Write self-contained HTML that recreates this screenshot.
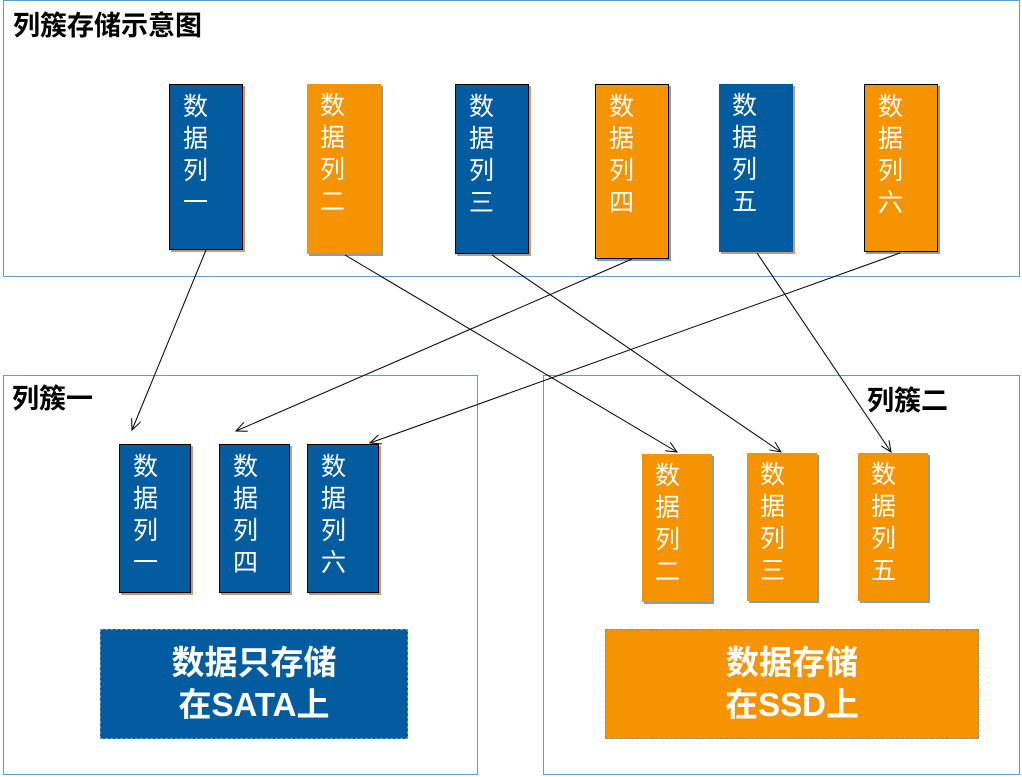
<!DOCTYPE html>
<html><head><meta charset="utf-8"><style>
*{margin:0;padding:0;box-sizing:border-box}
body{width:1022px;height:777px;background:#fff;position:relative;overflow:hidden;font-family:"Liberation Sans","Noto Sans CJK SC",sans-serif}
.fr{position:absolute;border:1px solid #5B9BD5}
.t{position:absolute;font-weight:bold;color:#000;font-size:27px;line-height:30px;white-space:nowrap}
.b{position:absolute;color:#fff;font-size:25px;line-height:32px;padding-left:13px;padding-top:6px}
.bl{background:#035C9F;border:1.5px solid #000;box-shadow:2px 2px 0 #c49a7a}
.or{background:#F59300;box-shadow:2px 2px 0 #7fa0b8}
.lab{position:absolute;color:#fff;font-weight:bold;font-size:33px;line-height:42px;text-align:center;border:1px dashed #5B9BD5;display:flex;align-items:center;justify-content:center}
</style></head><body>
<div class="fr" style="left:3px;top:0;width:1017px;height:277px"></div>
<div class="fr" style="left:3px;top:375px;width:475px;height:400px"></div>
<div class="fr" style="left:543px;top:375px;width:477px;height:400px"></div>
<div class="t" style="left:13px;top:11px">列簇存储示意图</div>
<div class="t" style="left:12px;top:384px">列簇一</div>
<div class="t" style="left:867px;top:386px">列簇二</div>

<div class="b bl" style="left:169px;top:84px;width:74px;height:166px">数<br>据<br>列<br>一</div>
<div class="b or" style="left:307px;top:84px;width:74px;height:170px">数<br>据<br>列<br>二</div>
<div class="b bl" style="left:455px;top:84px;width:74px;height:170px">数<br>据<br>列<br>三</div>
<div class="b or" style="left:595px;top:84px;width:74px;height:175px;border:1px solid #000">数<br>据<br>列<br>四</div>
<div class="b bl" style="left:719px;top:84px;width:74px;height:168px;border:none">数<br>据<br>列<br>五</div>
<div class="b or" style="left:864px;top:84px;width:74px;height:168px;border:1px solid #000">数<br>据<br>列<br>六</div>

<div class="b bl" style="left:119px;top:444px;width:72px;height:149px">数<br>据<br>列<br>一</div>
<div class="b bl" style="left:219px;top:444px;width:71px;height:149px">数<br>据<br>列<br>四</div>
<div class="b bl" style="left:307px;top:444px;width:72px;height:149px">数<br>据<br>列<br>六</div>

<div class="b or" style="left:642px;top:454px;width:70px;height:148px">数<br>据<br>列<br>二</div>
<div class="b or" style="left:747px;top:453px;width:70px;height:148px">数<br>据<br>列<br>三</div>
<div class="b or" style="left:858px;top:453px;width:70px;height:148px">数<br>据<br>列<br>五</div>

<div class="lab" style="left:100px;top:629px;width:308px;height:110px;background:#035C9F">数据只存储<br>在SATA上</div>
<div class="lab" style="left:605px;top:629px;width:374px;height:110px;background:#F59300">数据存储<br>在SSD上</div>

<svg width="1022" height="777" style="position:absolute;left:0;top:0" fill="none" stroke="#000" stroke-width="1">
<defs><marker id="a" markerWidth="12" markerHeight="10" refX="11" refY="5" orient="auto" markerUnits="userSpaceOnUse"><path d="M0,0 L11,5 L0,10" fill="none" stroke="#000"/></marker></defs>
<line x1="206" y1="250" x2="132" y2="430" marker-end="url(#a)"/>
<line x1="345" y1="255" x2="677" y2="452" marker-end="url(#a)"/>
<line x1="492" y1="255" x2="781" y2="452" marker-end="url(#a)"/>
<line x1="632" y1="259" x2="236" y2="431" marker-end="url(#a)"/>
<line x1="757" y1="253" x2="891" y2="452" marker-end="url(#a)"/>
<line x1="900" y1="253" x2="370" y2="443" marker-end="url(#a)"/>
</svg>
</body></html>
